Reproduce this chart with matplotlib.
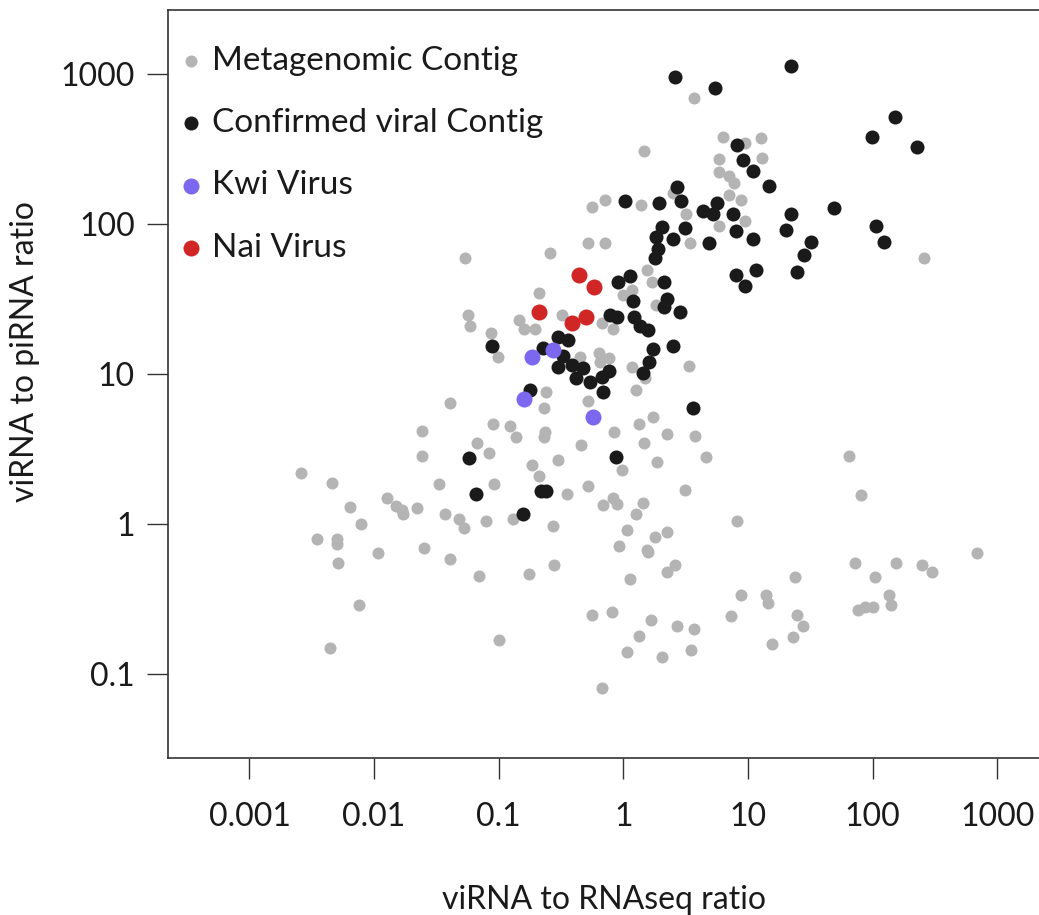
import matplotlib
matplotlib.use('Agg')
import matplotlib.pyplot as plt

plt.rcParams['font.family'] = ['Lato', 'DejaVu Sans']

### data (viRNA/RNAseq ratio, viRNA/piRNA ratio)
grey_x = [3.7, 1.46, 6.3, 9.4, 12.7, 12.9, 5.9, 5.9, 7.1, 7.7, 2.5, 7.1, 8.8, 0.71, 0.56,
          1.38, 3.2, 9.4, 5.8, 3.4, 0.52, 0.71, 0.26, 0.054, 257, 1.54, 1.69, 0.99, 1.17, 0.21,
          1.82, 0.32, 0.67, 0.82, 0.057, 0.059, 0.145, 0.16, 0.195, 0.087, 0.099, 0.45, 0.64, 0.76, 0.65,
          1.17, 1.49, 3.35, 0.041, 0.24, 0.52, 1.26, 0.23, 1.72, 0.09, 0.123, 0.137, 0.235, 0.23, 1.33,
          0.84, 2.23, 3.75, 0.067, 0.46, 1.46, 0.084, 0.30, 4.6, 1.86, 0.185, 0.97, 0.21, 0.092, 0.52,
          0.35, 3.1, 0.82, 0.024, 0.024, 0.0026, 0.0046, 0.033, 0.0127, 0.0064, 0.015, 0.0167, 0.017, 0.022, 0.037,
          0.048, 0.053, 0.0078, 0.0035, 0.005, 0.005, 0.0107, 0.025, 0.041, 0.0051, 0.0076, 0.0044, 0.685, 0.89, 1.43,
          1.26, 0.13, 0.079, 0.27, 1.07, 1.79, 2.23, 8.1, 0.92, 1.54, 1.57, 0.069, 0.175, 0.28, 2.6,
          2.23, 1.13, 8.8, 0.56, 0.81, 1.66, 2.7, 3.7, 7.3, 1.33, 0.10, 1.07, 2.03, 3.5, 0.67,
          80, 690, 72, 153, 248, 300, 24, 104, 13.9, 14.4, 135, 140, 76, 86, 100,
          24.6, 27.5, 23, 15.5, 64]
grey_y = [700, 310, 380, 350, 375, 277, 272, 223, 210, 188, 162, 157, 145, 145, 130,
          134, 117, 105, 97, 75, 75, 75, 64, 60, 60, 50, 41, 34, 36.5, 35,
          29, 25, 22, 20, 25, 21, 23, 20, 20, 19, 13, 13, 13.9, 12.8, 12.1,
          11.2, 9.4, 11.4, 6.4, 7.6, 6.6, 7.9, 6.0, 5.2, 4.7, 4.5, 3.8, 4.1, 3.8, 4.7,
          4.1, 4.0, 3.9, 3.5, 3.4, 3.5, 3.0, 2.7, 2.8, 2.6, 2.5, 2.3, 2.1, 1.86, 1.8,
          1.6, 1.7, 1.5, 4.2, 2.85, 2.2, 1.9, 1.86, 1.5, 1.3, 1.32, 1.25, 1.17, 1.28, 1.17,
          1.08, 0.95, 1.0, 0.8, 0.8, 0.74, 0.64, 0.7, 0.59, 0.55, 0.29, 0.15, 1.34, 1.37, 1.39,
          1.17, 1.08, 1.05, 0.97, 0.92, 0.82, 0.89, 1.05, 0.72, 0.67, 0.65, 0.45, 0.47, 0.54, 0.54,
          0.48, 0.43, 0.34, 0.25, 0.26, 0.23, 0.21, 0.2, 0.245, 0.18, 0.17, 0.14, 0.13, 0.146, 0.081,
          1.57, 0.64, 0.55, 0.55, 0.535, 0.48, 0.445, 0.445, 0.34, 0.30, 0.34, 0.29, 0.27, 0.28, 0.28,
          0.25, 0.21, 0.177, 0.16, 2.85]

black_x = [2.6, 5.4, 22, 150, 98, 225, 8.1, 9.1, 10.9, 14.7, 49, 22, 20, 10.9, 32,
           106, 123, 28, 11.5, 24.6, 9.4, 8.0, 7.6, 8.0, 5.6, 4.35, 5.2, 4.85, 3.1, 2.7,
           2.9, 1.93, 1.03, 2.03, 1.82, 2.5, 1.89, 1.79, 0.90, 1.13, 2.1, 1.19, 2.23, 2.1, 2.85,
           0.78, 0.89, 1.21, 1.36, 1.57, 0.088, 0.30, 0.36, 0.226, 0.33, 0.30, 0.39, 0.47, 0.42, 0.54,
           0.67, 0.76, 0.68, 1.72, 2.5, 1.6, 1.43, 0.178, 3.6, 0.058, 0.87, 0.066, 0.22, 0.24, 0.156]
black_y = [960, 810, 1140, 520, 380, 330, 340, 270, 227, 180, 128, 117, 92, 80, 76,
           97, 76, 62, 50, 48, 39, 46, 117, 90, 139, 123, 117, 75, 95, 177,
           143, 139, 143, 96, 82, 80, 69, 60, 41, 45, 41, 31, 32, 28, 26,
           25, 24, 24, 21, 19.7, 15.4, 17.7, 16.9, 15, 13.2, 11.2, 11.5, 11.0, 9.4, 8.9,
           9.6, 10.5, 7.6, 14.7, 15.4, 12.1, 10.2, 7.9, 6.0, 2.77, 2.8, 1.6, 1.67, 1.67, 1.17]

kwi_x = [0.27, 0.185, 0.159, 0.57]
kwi_y = [14.5, 13, 6.8, 5.2]

nai_x = [0.44, 0.58, 0.21, 0.50, 0.39]
nai_y = [46, 38, 26, 24, 22]

tick_vals = [0.001, 0.01, 0.1, 1, 10, 100, 1000]
tick_labels = ['0.001', '0.01', '0.1', '1', '10', '100', '1000']

### plotting ###################################################################
fig = plt.figure(figsize=(10.39, 9.15), dpi=100)
ax = fig.add_axes([168/1039, 157/915, 872/1039, 748/915])

ax.scatter(grey_x, grey_y, s=75, color='#b4b4b4', linewidths=0, label='Metagenomic Contig', zorder=2)
ax.scatter(black_x, black_y, s=102, color='#1a1a1a', linewidths=0, label='Confirmed viral Contig', zorder=3)
ax.scatter(kwi_x, kwi_y, s=133, color='#7b68ee', linewidths=0, label='Kwi Virus', zorder=4)
ax.scatter(nai_x, nai_y, s=133, color='#d12626', linewidths=0, label='Nai Virus', zorder=5)

ax.set_xscale('log')
ax.set_yscale('log')
ax.set_xlim(2.22e-4, 2.2e3)
ax.set_ylim(0.0277, 2685)

ax.set_xticks(tick_vals)
ax.set_xticklabels(tick_labels)
ax.set_yticks(tick_vals[2:])
ax.set_yticklabels(tick_labels[2:])
ax.minorticks_off()
ax.tick_params(axis='both', labelsize=23, length=15, width=1.0, color='#333333', labelcolor='#1a1a1a')
ax.tick_params(axis='x', pad=17)
ax.tick_params(axis='y', pad=9)

for side in ['left', 'bottom', 'top']:
    ax.spines[side].set_linewidth(1.2)
    ax.spines[side].set_color('#333333')
ax.spines['right'].set_visible(False)

ax.set_xlabel('viRNA to RNAseq ratio', fontsize=23, color='#1a1a1a', labelpad=38)
ax.set_ylabel('viRNA to piRNA ratio', fontsize=23, color='#1a1a1a')
ax.yaxis.set_label_coords(-0.147, 0.543)

ax.legend(loc='upper left', bbox_to_anchor=(0.0, 0.97), frameon=False, fontsize=24,
          scatterpoints=1, handlelength=0.6, handletextpad=0.33, labelspacing=0.97,
          borderaxespad=0.0, labelcolor='#1a1a1a')

plt.savefig('out.png', dpi=100)
